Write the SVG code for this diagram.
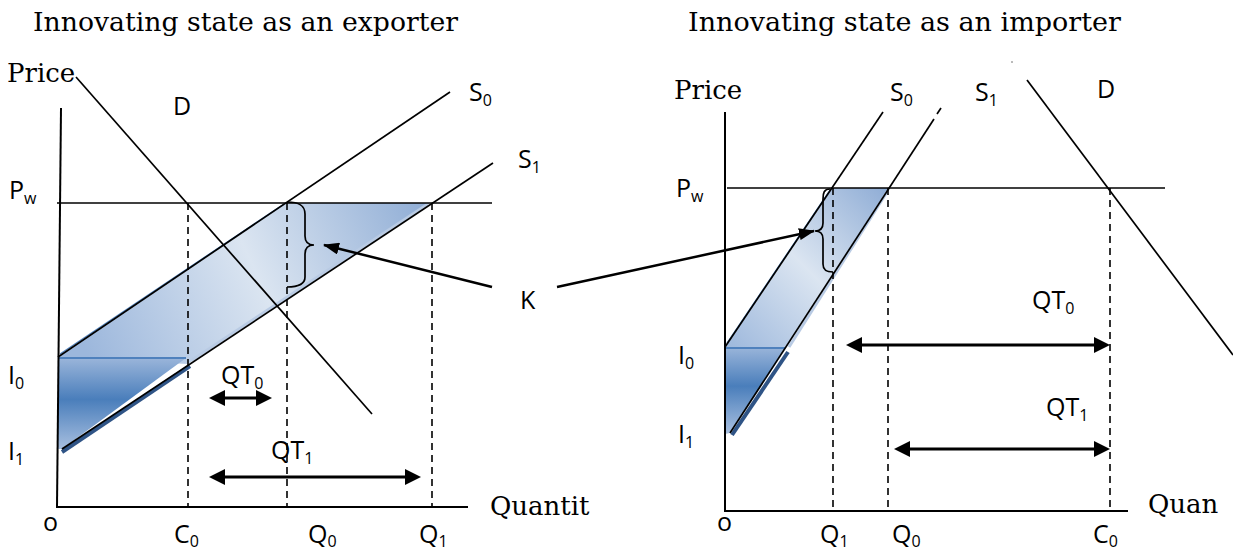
<svg xmlns="http://www.w3.org/2000/svg" width="1233" height="552" viewBox="0 0 1233 552">
<style>
.ser{font-family:"DejaVu Serif","Liberation Serif",serif;font-size:26px;fill:#000}
.lab{font-family:"Open Sans","Liberation Sans",sans-serif;font-size:25px;fill:#000}
.sub{font-size:16px}
.ln{stroke:#000;stroke-width:1.7;fill:none}
.ax{stroke:#000;stroke-width:2;fill:none}
.dash{stroke:#000;stroke-width:1.6;stroke-dasharray:7,5;fill:none}
.qt{stroke:#000;stroke-width:3;fill:none}
.karr{stroke:#000;stroke-width:2.5;fill:none}
.brace{stroke:#000;stroke-width:1.7;fill:none}
.edge{stroke:#4f81bd;stroke-width:2;fill:none}
.shadow{stroke:#2f5486;stroke-width:4;fill:none}
.lite{stroke:#b9cbe4;stroke-width:3;fill:none}
</style>
<defs>
<marker id="dbl" viewBox="0 0 16 16" markerWidth="16" markerHeight="16" refX="8" refY="8" orient="auto-start-reverse" markerUnits="userSpaceOnUse"><path d="M0,0 L16,8 L0,16 z" fill="#000"/></marker>
<marker id="karrow" viewBox="0 0 16 12" markerWidth="16" markerHeight="12" refX="15" refY="6" orient="auto" markerUnits="userSpaceOnUse"><path d="M0,0 L16,6 L0,12 z" fill="#000"/></marker>
<linearGradient id="bandL" gradientUnits="userSpaceOnUse" x1="430" y1="203" x2="90" y2="360"><stop offset="0" stop-color="#8eacd5"/><stop offset="0.5" stop-color="#dbe5f1"/><stop offset="1" stop-color="#9cb7dc"/></linearGradient>
<linearGradient id="bandR" gradientUnits="userSpaceOnUse" x1="889" y1="188" x2="725" y2="350"><stop offset="0" stop-color="#8eacd5"/><stop offset="0.5" stop-color="#dbe5f1"/><stop offset="1" stop-color="#9cb7dc"/></linearGradient>
<linearGradient id="lowL" gradientUnits="userSpaceOnUse" x1="0" y1="358" x2="0" y2="450"><stop offset="0" stop-color="#9ab5da"/><stop offset="0.45" stop-color="#4a7ebb"/><stop offset="1" stop-color="#a9c0e0"/></linearGradient>
<linearGradient id="lowR" gradientUnits="userSpaceOnUse" x1="0" y1="347" x2="0" y2="434"><stop offset="0" stop-color="#9ab5da"/><stop offset="0.45" stop-color="#4a7ebb"/><stop offset="1" stop-color="#a9c0e0"/></linearGradient>
</defs>

<g id="titles">
<text class="ser" x="33" y="31" textLength="425" lengthAdjust="spacingAndGlyphs">Innovating state as an exporter</text>
<text class="ser" x="688" y="31" textLength="433" lengthAdjust="spacingAndGlyphs">Innovating state as an importer</text>
</g>

<g id="chart-exporter">
<g id="band-left">
<polygon points="58,357 286,203 430,203 188,364 58,358" fill="url(#bandL)"/>
<polygon points="58,358 186,358 62,449 58,449" fill="url(#lowL)"/>
<line class="lite" x1="192" y1="360" x2="428" y2="204"/>
<line class="edge" x1="58" y1="358" x2="186" y2="358"/>
<line class="edge" x1="60" y1="354" x2="284" y2="204" style="stroke-width:1.2"/>
<line class="shadow" x1="62" y1="452" x2="190" y2="366"/>
</g>
<line class="dash" x1="188" y1="203" x2="188" y2="507"/>
<line class="dash" x1="287" y1="203" x2="287" y2="507"/>
<line class="dash" x1="432" y1="203" x2="432" y2="507"/>
<line class="ax" x1="61" y1="108" x2="57" y2="507"/>
<line class="ax" x1="56" y1="507" x2="468" y2="507"/>
<line class="ln" x1="57" y1="203" x2="492" y2="203"/>
<line id="D-left" class="ln" x1="76" y1="77" x2="372" y2="414"/>
<line id="S0-left" class="ln" x1="58" y1="357" x2="450" y2="92"/>
<line id="S1-left" class="ln" x1="62" y1="449" x2="493" y2="163"/>
<path id="brace-left" class="brace" d="M287,202 C297,202 305,204 305,214 L305,236 C305,242 308,245 314,245 C308,245 305,248 305,254 L305,277 C305,285 297,287 287,287"/>
<text class="ser" x="7" y="82">Price</text>
<text class="lab" x="173" y="115">D</text>
<text class="lab" x="469" y="101">S<tspan class="sub" dy="5">0</tspan></text>
<text class="lab" x="518" y="168">S<tspan class="sub" dy="5">1</tspan></text>
<text class="lab" x="9" y="199">P<tspan class="sub" dy="5">w</tspan></text>
<text class="lab" x="8" y="384">I<tspan class="sub" dy="5">0</tspan></text>
<text class="lab" x="8" y="460">I<tspan class="sub" dy="5">1</tspan></text>
<text class="lab" x="221" y="384">QT<tspan class="sub" dy="5">0</tspan></text>
<text class="lab" x="271" y="459">QT<tspan class="sub" dy="5">1</tspan></text>
<text class="ser" x="490" y="515">Quantit</text>
<text class="lab" x="43" y="531">o</text>
<text class="lab" x="174" y="543">C<tspan class="sub" dy="4">0</tspan></text>
<text class="lab" x="308" y="543">Q<tspan class="sub" dy="4">0</tspan></text>
<text class="lab" x="419" y="543">Q<tspan class="sub" dy="4">1</tspan></text>
</g>

<g id="chart-importer">
<g id="band-right">
<polygon points="725,347 832,188 889,188 786,348 725,348" fill="url(#bandR)"/>
<polygon points="725,348 786,348 730,433 725,434" fill="url(#lowR)"/>
<line class="lite" x1="789" y1="347" x2="887" y2="192"/>
<line class="edge" x1="725" y1="348" x2="785" y2="348"/>
<line class="edge" x1="727" y1="343" x2="830" y2="190" style="stroke-width:1.2"/>
<line class="shadow" x1="732" y1="435" x2="788" y2="352"/>
</g>
<line class="dash" x1="833" y1="188" x2="833" y2="511"/>
<line class="dash" x1="888" y1="188" x2="888" y2="511"/>
<line class="dash" x1="1110" y1="188" x2="1110" y2="511"/>
<line class="ax" x1="725" y1="112" x2="725" y2="511"/>
<line class="ax" x1="724" y1="511" x2="1128" y2="511"/>
<line class="ln" x1="727" y1="188" x2="1165" y2="188"/>
<line id="D-right" class="ln" x1="1027" y1="80" x2="1233" y2="355"/>
<line id="S0-right" class="ln" x1="725" y1="347" x2="883" y2="112"/>
<line id="S1-right" class="ln" x1="730" y1="433" x2="934" y2="119"/>
<line class="ln" x1="937" y1="114" x2="941" y2="108"/>
<line class="ln" x1="1011" y1="62" x2="1013" y2="62" style="stroke-width:1;stroke:#777"/>
<path id="brace-right" class="brace" d="M830,189 C824,189 823,193 823,199 L823,223 C823,229 820,231 815,231 C820,231 823,233 823,239 L823,264 C823,270 826,272 833,272"/>
<text class="ser" x="674" y="99">Price</text>
<text class="lab" x="890" y="101">S<tspan class="sub" dy="5">0</tspan></text>
<text class="lab" x="975" y="101">S<tspan class="sub" dy="5">1</tspan></text>
<text class="lab" x="1097" y="98">D</text>
<text class="lab" x="676" y="197">P<tspan class="sub" dy="5">w</tspan></text>
<text class="lab" x="678" y="364">I<tspan class="sub" dy="5">0</tspan></text>
<text class="lab" x="678" y="443">I<tspan class="sub" dy="5">1</tspan></text>
<text class="lab" x="1032" y="309">QT<tspan class="sub" dy="5">0</tspan></text>
<text class="lab" x="1046" y="416">QT<tspan class="sub" dy="5">1</tspan></text>
<text class="ser" x="1148" y="513">Quan</text>
<text class="lab" x="717" y="531">o</text>
<text class="lab" x="820" y="543">Q<tspan class="sub" dy="4">1</tspan></text>
<text class="lab" x="892" y="543">Q<tspan class="sub" dy="4">0</tspan></text>
<text class="lab" x="1093" y="543">C<tspan class="sub" dy="4">0</tspan></text>
</g>

<g id="K-label">
<text class="lab" x="520" y="309">K</text>
</g>

<g id="connectors">
<line class="qt" x1="217" y1="398" x2="264" y2="398" marker-start="url(#dbl)" marker-end="url(#dbl)"/>
<line class="qt" x1="217" y1="477" x2="413" y2="477" marker-start="url(#dbl)" marker-end="url(#dbl)"/>
<line class="qt" x1="854" y1="345" x2="1102" y2="345" marker-start="url(#dbl)" marker-end="url(#dbl)"/>
<line class="qt" x1="902" y1="449" x2="1102" y2="449" marker-start="url(#dbl)" marker-end="url(#dbl)"/>
<line class="karr" x1="492" y1="287" x2="324" y2="245" marker-end="url(#karrow)"/>
<line class="karr" x1="557" y1="287" x2="814" y2="231" marker-end="url(#karrow)"/>
</g>
</svg>
